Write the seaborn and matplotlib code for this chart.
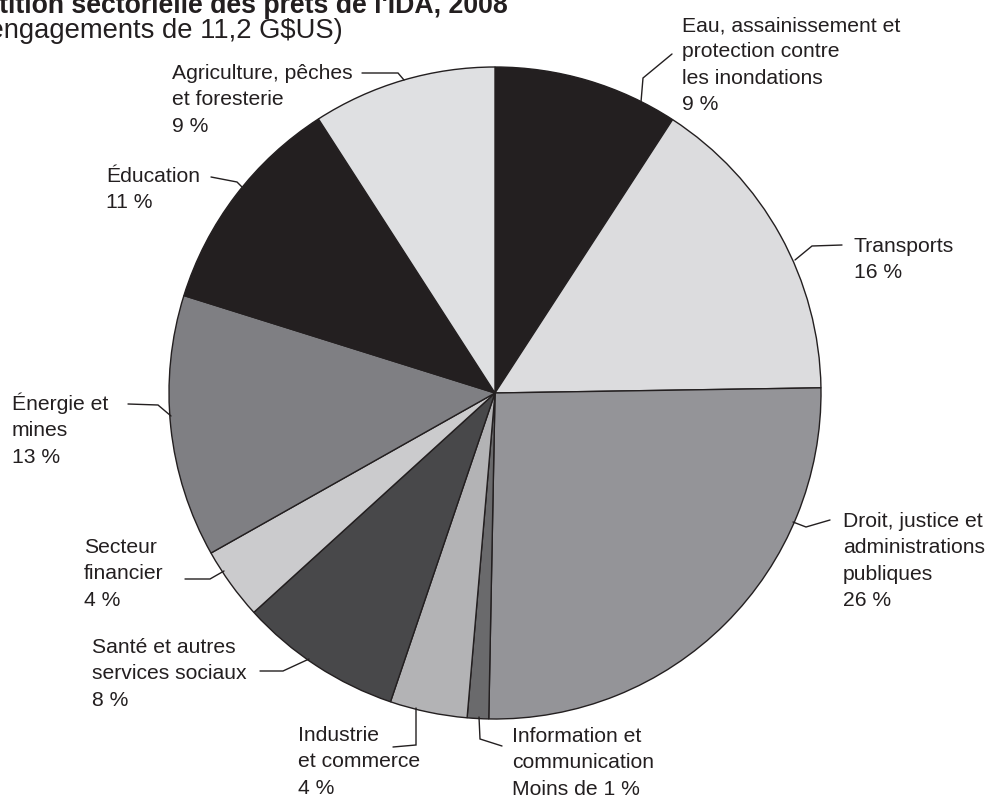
import matplotlib
matplotlib.use("Agg")
import matplotlib.pyplot as plt
import seaborn as sns

sns.set_theme(style="white")
plt.rcParams['font.family'] = ['Liberation Sans', 'DejaVu Sans']

# ---- data ----
sectors = ["Eau, assainissement et\nprotection contre\nles inondations",
           "Transports",
           "Droit, justice et\nadministrations\npubliques",
           "Information et\ncommunication",
           "Industrie\net commerce",
           "Santé et autres\nservices sociaux",
           "Secteur\nfinancier",
           "Énergie et\nmines",
           "Éducation",
           "Agriculture, pêches\net foresterie"]
shares = [9.17, 15.58, 25.56, 1.06, 3.83, 8.06, 3.58, 13.0, 11.06, 9.11]
pct_labels = ["9 %", "16 %", "26 %", "Moins de 1 %", "4 %", "8 %", "4 %", "13 %", "11 %", "9 %"]
colors = ["#231f20", "#dcdcde", "#949498", "#6a6a6c", "#b3b3b5",
          "#48484a", "#cbcbcd", "#7f7f83", "#231f20", "#dfe0e2"]

title = "Répartition sectorielle des prêts de l'IDA, 2008"
subtitle = "(Total des engagements de 11,2 G$US)"

W, H = 990, 798
fig = plt.figure(figsize=(W / 100, H / 100), dpi=100)
ax = fig.add_axes([0, 0, 1, 1])

cx, cy, R = 495, H - 393, 326
ax.pie(shares, colors=colors, startangle=90, counterclock=False,
       center=(cx, cy), radius=R, frame=True,
       wedgeprops=dict(edgecolor="#231f20", linewidth=1.0))
ax.set_xlim(0, W)
ax.set_ylim(0, H)
ax.set_aspect("equal")
ax.axis("off")

# label layout (pixel coords from top): text x, first baseline, leader points
layout = [
    (682, 31, [(641, 102), (643, 78), (672, 54)]),
    (854, 252, [(795, 260), (812, 246), (842, 245)]),
    (843, 527, [(793, 522), (806, 527), (830, 520)]),
    (512, 742, [(479, 717), (480, 739), (502, 746)]),
    (298, 741, [(416, 708), (416, 745), (393, 747)]),
    (92, 653, [(309, 659), (283, 671), (260, 671)]),
    (84, 553, [(224, 571), (210, 579), (185, 579)]),
    (12, 410, [(171, 416), (158, 405), (128, 404)]),
    (106, 182, [(242, 187), (237, 182), (211, 177)]),
    (172, 79, [(404, 80), (398, 73), (362, 73)]),
]
fs = 15.2
step = 26.4
for name, pct, (tx, by, pts) in zip(sectors, pct_labels, layout):
    lines = name.split("\n") + [pct]
    for i, ln in enumerate(lines):
        ax.text(tx, H - (by + i * step), ln, fontsize=fs, color="#231f20",
                ha="left", va="baseline")
    xs = [p[0] for p in pts]
    ys = [H - p[1] for p in pts]
    ax.plot(xs, ys, color="#231f20", linewidth=1.0, solid_joinstyle="miter")

ax.text(508, H - 13, title, fontsize=19.2, fontweight="bold", color="#231f20",
        ha="right", va="baseline")
ax.text(343, H - 38, subtitle, fontsize=19.7, color="#231f20",
        ha="right", va="baseline")

fig.savefig("out.png", dpi=100)
